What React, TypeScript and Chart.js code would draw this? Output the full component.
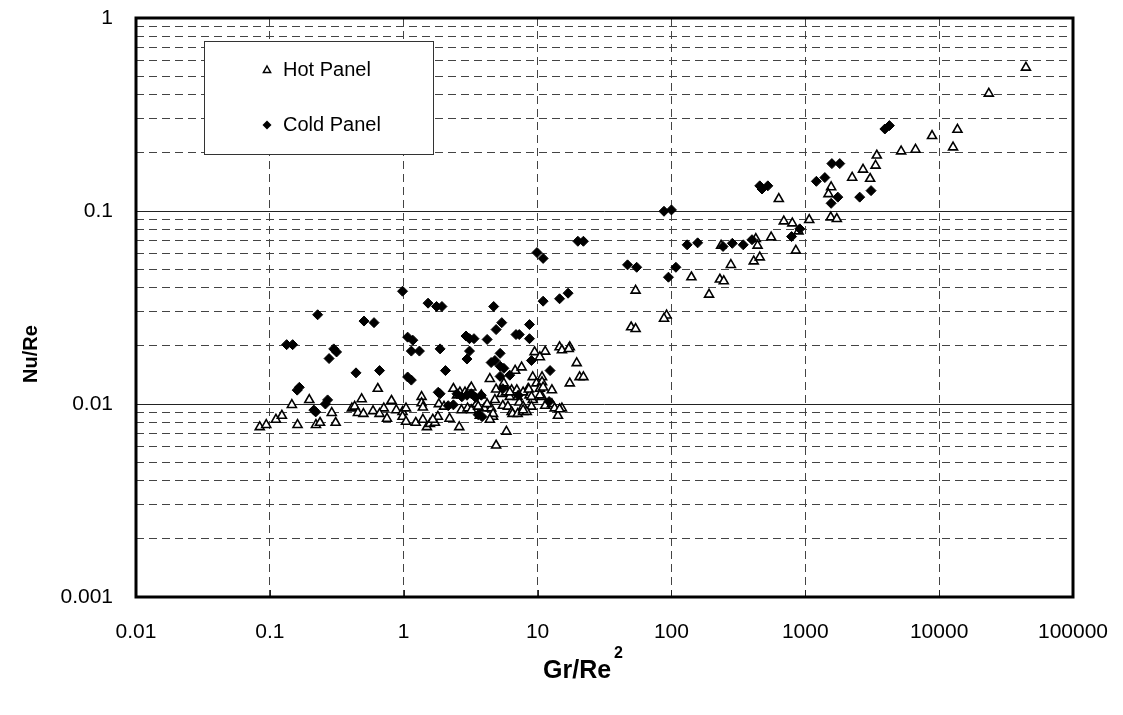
import React, { useEffect, useRef } from "react";
import { Chart, registerables } from "chart.js";

Chart.register(...registerables);

// ---- Data ----
const hotX = [
  0.084, 0.094, 0.111, 0.123, 0.146, 0.161, 0.197, 0.221, 0.237, 0.29, 0.31, 0.41, 0.43, 0.455, 0.5, 0.485,
  0.59, 0.64, 0.71, 0.66, 0.75, 0.81, 0.88, 0.98, 1.04, 0.98, 1.04, 1.23, 1.36, 1.36, 1.39, 1.49, 1.57, 1.71,
  1.8, 1.83, 2.2, 2.35, 2.6, 2.63, 2.87, 3.1, 3.2, 2.7, 3.0, 3.2, 3.7, 3.8, 4.0, 4.5, 4.65, 4.4, 4.9, 4.9,
  5.4, 5.6, 5.8, 6.2, 6.4, 5.85, 5.5, 6.0, 6.4, 6.5, 7.1, 7.8, 7.0, 7.1, 7.3, 7.8, 6.8, 7.6, 8.5, 8.7, 9.2,
  9.0, 9.2, 10.8, 9.5, 11.4, 10.4, 9.8, 10.8, 10.4, 11.0, 12.8, 10.8, 11.4, 12.8, 13.4, 14.2, 15.2, 14.6,
  17.4, 15.2, 17.1, 17.4, 19.6, 20.6, 22, 5.6, 6.2, 7.8, 8.6, 9.0, 10.4, 14.6, 8.3, 7.8, 4.65, 2.0, 4.4,
  2.5, 3.5, 3.6, 4.2, 4.8, 1.39, 1.65,
  50, 54, 54, 92, 88, 141, 191, 230, 246, 235, 278, 427, 440, 412, 457, 556, 634, 691, 800, 850, 890, 1070,
  1550, 1720, 1560, 1490, 2240, 2700, 3050, 3420, 3350, 5200, 6660, 8850, 12700, 13700, 23500, 44500,
];
const hotY = [
  0.0076, 0.0078, 0.0083, 0.0087, 0.0099, 0.0078, 0.0105, 0.0078, 0.008, 0.009, 0.008, 0.0095, 0.0097, 0.009,
  0.0089, 0.0106, 0.0092, 0.012, 0.0095, 0.0089, 0.0084, 0.0104, 0.0093, 0.0091, 0.0095, 0.0086, 0.0081, 0.008,
  0.0109, 0.0101, 0.0096, 0.0076, 0.0079, 0.008, 0.0086, 0.01, 0.0084, 0.012, 0.0076, 0.0115, 0.0115, 0.0118,
  0.0122, 0.0093, 0.0095, 0.0093, 0.0087, 0.0111, 0.0095, 0.0095, 0.0086, 0.0135, 0.0061, 0.0119, 0.0113,
  0.0125, 0.0115, 0.0109, 0.0118, 0.0072, 0.0098, 0.0097, 0.0091, 0.0089, 0.0089, 0.0091, 0.0118, 0.0109,
  0.0102, 0.0097, 0.0149, 0.0155, 0.012, 0.0111, 0.0105, 0.0097, 0.0138, 0.0138, 0.0186, 0.0187, 0.0175,
  0.0128, 0.013, 0.012, 0.0122, 0.0118, 0.0109, 0.0098, 0.01, 0.0095, 0.0087, 0.0095, 0.0197, 0.0197, 0.019,
  0.0193, 0.0128, 0.0163, 0.0138, 0.0138, 0.0128, 0.0115, 0.0115, 0.0119, 0.0109, 0.0111, 0.0094, 0.0091,
  0.0093, 0.0089, 0.0097, 0.0083, 0.0111, 0.01, 0.0097, 0.01, 0.0105, 0.0083, 0.0083,
  0.025, 0.0245, 0.0387, 0.0288, 0.0277, 0.0454, 0.0369, 0.0442, 0.0433, 0.0662, 0.0526, 0.0717, 0.0662,
  0.0549, 0.0576, 0.0731, 0.1155, 0.0885, 0.0864, 0.0624, 0.0785, 0.0899, 0.0928, 0.091, 0.133, 0.1225,
  0.149, 0.164, 0.147, 0.194, 0.172, 0.204, 0.208, 0.245, 0.214, 0.264, 0.406, 0.554,
];
const coldX = [
  0.1335, 0.148, 0.2275, 0.505, 0.6, 0.3, 0.315, 0.277, 0.44, 0.66, 0.166, 0.16, 0.27, 0.26, 0.213, 0.22,
  0.98, 1.52, 1.76, 1.93, 1.07, 1.17, 1.14, 1.31, 1.87, 2.05, 1.07, 1.14, 1.81, 1.87, 2.92, 3.1, 3.35, 2.97,
  3.1, 4.2, 4.7, 4.9, 5.4, 6.9, 7.3, 8.7, 8.7, 5.25, 4.5, 4.8, 5.25, 5.6, 6.2, 9.0, 12.4,
  2.5, 2.72, 2.97, 3.2, 3.45, 3.8, 2.15, 2.35, 3.6, 3.85, 5.5, 7.2, 12.2, 5.25,
  9.9, 11.0, 11.0, 14.6, 16.9, 20, 22, 47, 55, 95, 108, 88, 100, 131, 157, 243, 285, 344, 400, 457, 525,
  475, 790, 910, 1210, 1400, 1580, 1810, 1750, 1560, 2550, 3100, 3930, 4250,
];
const coldY = [
  0.0203, 0.0203, 0.029, 0.0269, 0.0264, 0.0193, 0.0186, 0.0172, 0.0145, 0.0149, 0.0122, 0.0118, 0.0105, 0.01,
  0.0093, 0.0091, 0.0384, 0.0333, 0.032, 0.032, 0.0222, 0.0214, 0.0188, 0.0188, 0.0193, 0.0149, 0.0138,
  0.0133, 0.0115, 0.0113, 0.0225, 0.0218, 0.0218, 0.0171, 0.0188, 0.0216, 0.032, 0.0243, 0.0264, 0.0229,
  0.0229, 0.0258, 0.0218, 0.0183, 0.0164, 0.0168, 0.0157, 0.0153, 0.0141, 0.0168, 0.0149,
  0.0113, 0.0109, 0.0111, 0.0113, 0.0108, 0.0111, 0.0098, 0.0099, 0.0088, 0.0086, 0.012, 0.0111, 0.0103, 0.0139,
  0.0609, 0.0568, 0.0341, 0.0351, 0.0375, 0.0697, 0.0697, 0.0526, 0.0511, 0.0454, 0.0511, 0.0997, 0.1013,
  0.0668, 0.0684, 0.0655, 0.068, 0.0668, 0.071, 0.135, 0.135, 0.13, 0.0737, 0.0808, 0.1425, 0.149, 0.176,
  0.176, 0.118, 0.1096, 0.118, 0.1275, 0.266, 0.277,
];

const xTickValues = [0.01, 0.1, 1, 10, 100, 1000, 10000, 100000];
const xTickLabels = ["0.01", "0.1", "1", "10", "100", "1000", "10000", "100000"];
const yDecades = [0.001, 0.01, 0.1];
const yMinorSteps = [1, 2, 3, 4, 5, 6, 7, 8, 9];
const yLabelValues = [0.001, 0.01, 0.1, 1];
const yLabelTexts = ["0.001", "0.01", "0.1", "1"];
const ySolidLines = [0.01, 0.1];
const seriesNames = ["Hot Panel", "Cold Panel"];
const xTitleBase = "Gr/Re";
const xTitleSup = "2";
const yTitle = "Nu/Re";

const FONT = "'Liberation Sans', Arial, Helvetica, sans-serif";

const sameLog = (a: number, b: number) => Math.abs(Math.log10(a) - Math.log10(b)) < 1e-6;

const framePlugin = {
  id: "frame",
  beforeDatasetsDraw(chart: any) {
    const { ctx, chartArea, scales } = chart;
    ctx.save();
    ctx.strokeStyle = "#222";
    ctx.lineWidth = 1;
    ctx.setLineDash([]);
    ySolidLines.forEach((v) => {
      const y = Math.round(scales.y.getPixelForValue(v)) + 0.5;
      ctx.beginPath();
      ctx.moveTo(chartArea.left, y);
      ctx.lineTo(chartArea.right, y);
      ctx.stroke();
    });
    xTickValues.slice(1, -1).forEach((v) => {
      const x = Math.round(scales.x.getPixelForValue(v)) + 0.5;
      ctx.beginPath();
      ctx.moveTo(x, chartArea.bottom);
      ctx.lineTo(x, chartArea.bottom - 7);
      ctx.stroke();
    });
    ctx.restore();
  },
  afterDraw(chart: any) {
    const { ctx, chartArea } = chart;
    ctx.save();
    ctx.setLineDash([]);
    ctx.strokeStyle = "#000";
    ctx.lineWidth = 3;
    ctx.strokeRect(chartArea.left, chartArea.top, chartArea.right - chartArea.left, chartArea.bottom - chartArea.top);

    // legend box
    const lx = chartArea.left + 68;
    const ly = chartArea.top + 23;
    const lw = 229;
    const lh = 113;
    ctx.fillStyle = "#fff";
    ctx.fillRect(lx, ly, lw, lh);
    ctx.lineWidth = 1;
    ctx.strokeStyle = "#333";
    ctx.strokeRect(lx + 0.5, ly + 0.5, lw, lh);

    const mx = lx + 63;
    const tx = lx + 79;
    const rows = [ly + 29, ly + 84];
    ctx.font = `20px ${FONT}`;
    ctx.textBaseline = "middle";
    ctx.textAlign = "left";
    ctx.beginPath();
    ctx.moveTo(mx, rows[0] - 4);
    ctx.lineTo(mx + 3.6, rows[0] + 2.5);
    ctx.lineTo(mx - 3.6, rows[0] + 2.5);
    ctx.closePath();
    ctx.fillStyle = "#fff";
    ctx.fill();
    ctx.lineWidth = 1.5;
    ctx.strokeStyle = "#000";
    ctx.stroke();
    ctx.beginPath();
    ctx.moveTo(mx, rows[1] - 4.5);
    ctx.lineTo(mx + 4.5, rows[1]);
    ctx.lineTo(mx, rows[1] + 4.5);
    ctx.lineTo(mx - 4.5, rows[1]);
    ctx.closePath();
    ctx.fillStyle = "#000";
    ctx.fill();
    ctx.fillText(seriesNames[0], tx, rows[0]);
    ctx.fillText(seriesNames[1], tx, rows[1]);

    // axis titles
    ctx.fillStyle = "#000";
    ctx.font = `bold 25px ${FONT}`;
    ctx.textBaseline = "alphabetic";
    const baseW = ctx.measureText(xTitleBase).width;
    ctx.font = `bold 16px ${FONT}`;
    const supW = ctx.measureText(xTitleSup).width;
    const total = baseW + 3 + supW;
    const startX = 583 - total / 2;
    const baseY = 678;
    ctx.font = `bold 25px ${FONT}`;
    ctx.textAlign = "left";
    ctx.fillText(xTitleBase, startX, baseY);
    ctx.font = `bold 16px ${FONT}`;
    ctx.fillText(xTitleSup, startX + baseW + 3, baseY - 20);

    ctx.save();
    ctx.translate(31, 354);
    ctx.rotate(-Math.PI / 2);
    ctx.font = `bold 20px ${FONT}`;
    ctx.textAlign = "center";
    ctx.textBaseline = "middle";
    ctx.fillText(yTitle, 0, 0);
    ctx.restore();

    ctx.restore();
  },
};

export default function App() {
  const canvasRef = useRef<HTMLCanvasElement | null>(null);

  useEffect(() => {
    if (!canvasRef.current) return;
    const yTickValues: number[] = [];
    yDecades.forEach((d) => yMinorSteps.forEach((s) => yTickValues.push(parseFloat((d * s).toPrecision(6)))));
    yTickValues.push(1);

    const chart = new Chart(canvasRef.current, {
      type: "scatter",
      data: {
        datasets: [
          {
            label: seriesNames[1],
            data: coldX.map((x, i) => ({ x, y: coldY[i] })),
            pointStyle: "rectRot",
            pointRadius: 5,
            pointBackgroundColor: "#000",
            pointBorderColor: "#000",
            pointBorderWidth: 1,
          },
          {
            label: seriesNames[0],
            data: hotX.map((x, i) => ({ x, y: hotY[i] })),
            pointStyle: "triangle",
            pointRadius: 5.2,
            pointBackgroundColor: "#fff",
            pointBorderColor: "#000",
            pointBorderWidth: 1.6,
          },
        ],
      },
      options: {
        responsive: false,
        animation: false,
        events: [],
        layout: { padding: { top: 18, right: 50, left: 0, bottom: 0 } },
        plugins: { legend: { display: false }, tooltip: { enabled: false } },
        scales: {
          x: {
            type: "logarithmic",
            min: 0.01,
            max: 100000,
            afterBuildTicks: (scale: any) => {
              scale.ticks = xTickValues.map((v) => ({ value: v }));
            },
            afterFit: (scale: any) => {
              scale.height = 118;
              scale.paddingLeft = 0;
              scale.paddingRight = 0;
            },
            ticks: {
              autoSkip: false,
              maxRotation: 0,
              padding: 23,
              color: "#000",
              font: { family: FONT, size: 21 },
              callback: (value: any) => {
                const i = xTickValues.findIndex((v) => sameLog(v, Number(value)));
                return i >= 0 ? xTickLabels[i] : "";
              },
            },
            grid: {
              drawTicks: false,
              lineWidth: 1,
              color: (ctx: any) => {
                const v = ctx.tick ? ctx.tick.value : undefined;
                if (v === undefined || sameLog(v, 0.01) || sameLog(v, 100000)) return "rgba(0,0,0,0)";
                return "#444";
              },
            },
            border: { display: false, dash: [8, 5] },
            title: { display: false },
          },
          y: {
            type: "logarithmic",
            min: 0.001,
            max: 1,
            afterBuildTicks: (scale: any) => {
              scale.ticks = yTickValues.map((v) => ({ value: v }));
            },
            afterFit: (scale: any) => {
              scale.width = 136;
              scale.paddingTop = 0;
              scale.paddingBottom = 0;
            },
            ticks: {
              autoSkip: false,
              padding: 23,
              color: "#000",
              font: { family: FONT, size: 21 },
              callback: (value: any) => {
                const i = yLabelValues.findIndex((v) => sameLog(v, Number(value)));
                return i >= 0 ? yLabelTexts[i] : "";
              },
            },
            grid: {
              drawTicks: false,
              lineWidth: 1,
              color: (ctx: any) => {
                const v = ctx.tick ? ctx.tick.value : undefined;
                if (v === undefined) return "rgba(0,0,0,0)";
                if (yLabelValues.some((m) => sameLog(m, v))) return "rgba(0,0,0,0)";
                return "#444";
              },
            },
            border: { display: false, dash: [8, 5] },
            title: { display: false },
          },
        },
      },
      plugins: [framePlugin],
    });
    return () => chart.destroy();
  }, []);

  return (
    <div style={{ position: "absolute", left: 0, top: 0, width: 1123, height: 715, background: "#fff" }}>
      <canvas ref={canvasRef} width={1123} height={715} style={{ display: "block" }} />
    </div>
  );
}
